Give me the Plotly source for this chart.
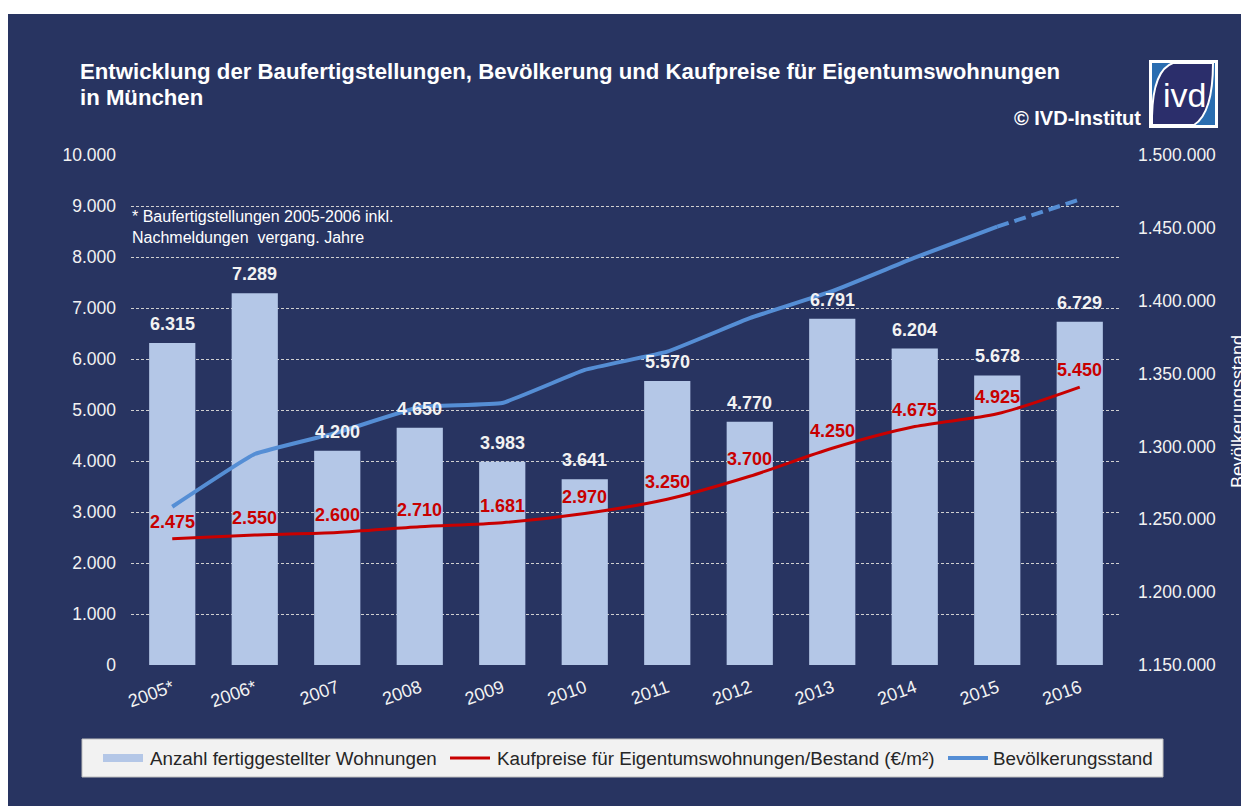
import plotly.graph_objects as go

# ---------------- data ----------------
years = ["2005*", "2006*", "2007", "2008", "2009", "2010", "2011", "2012",
         "2013", "2014", "2015", "2016"]
completions = [6315, 7289, 4200, 4650, 3983, 3641, 5570, 4770, 6791, 6204, 5678, 6729]
prices = [2475, 2550, 2600, 2710, 2790, 2970, 3250, 3700, 4250, 4675, 4925, 5450]
price_labels = ["2.475", "2.550", "2.600", "2.710", "1.681", "2.970", "3.250",
                "3.700", "4.250", "4.675", "4.925", "5.450"]
population = [1258600, 1294800, 1309500, 1327000, 1329800, 1352500, 1365000,
              1388000, 1406500, 1429500, 1450800, 1469500]
left_ticks = [0, 1000, 2000, 3000, 4000, 5000, 6000, 7000, 8000, 9000, 10000]
right_ticks = [1150000, 1200000, 1250000, 1300000, 1350000, 1400000, 1450000, 1500000]
series_names = ["Anzahl fertiggestellter Wohnungen",
                "Kaufpreise für Eigentumswohnungen/Bestand (€/m²)",
                "Bevölkerungsstand"]

# ---------------- style ----------------
W, H = 1251, 806
OFF = 8                      # page body margin (display offset)
ML, MR, MT, MB = 123, 138, 147, 149
PW = W - ML - MR
PH = H - MT - MB
NAVY = "#283461"
BAR = "#B4C7E7"
RED = "#C80000"
BLUE = "#558ED5"
FONT = "Liberation Sans, Arial, sans-serif"


def fmt(v):
    return f"{v:,}".replace(",", ".")


def px_x(p):
    """display pixel x -> paper coordinate"""
    return (p - OFF - ML) / PW


def px_y(p):
    """display pixel y -> paper coordinate"""
    return (H - MB - (p - OFF)) / PH


fig = go.Figure()

fig.add_trace(go.Bar(
    x=years, y=completions, marker=dict(color=BAR, line=dict(width=0)),
    name=series_names[0], yaxis="y"))

fig.add_trace(go.Scatter(
    x=years, y=prices, mode="lines",
    line=dict(color=RED, width=3, shape="spline", smoothing=0.8),
    name=series_names[1], yaxis="y"))

fig.add_trace(go.Scatter(
    x=years[:-1], y=population[:-1], mode="lines",
    line=dict(color=BLUE, width=4, shape="spline", smoothing=0.3),
    name=series_names[2], yaxis="y2"))

fig.add_trace(go.Scatter(
    x=years[-2:], y=population[-2:], mode="lines",
    line=dict(color=BLUE, width=4, dash="12px,6px"),
    name=series_names[2], yaxis="y2"))

annotations = []
for i, v in enumerate(completions):
    annotations.append(dict(
        x=i, y=v, xref="x", yref="y", text=f"<b>{fmt(v)}</b>", showarrow=False,
        yanchor="middle", yshift=19, font=dict(family=FONT, size=18, color="#F2F2F2")))
for i, (v, lab) in enumerate(zip(prices, price_labels)):
    annotations.append(dict(
        x=i, y=v, xref="x", yref="y", text=f"<b>{lab}</b>", showarrow=False,
        yanchor="middle", yshift=17, font=dict(family=FONT, size=18, color=RED)))

annotations += [
    dict(x=px_x(78), y=px_y(72), xref="paper", yref="paper", xanchor="left", yanchor="middle",
         text="<b>Entwicklung der Baufertigstellungen, Bevölkerung und Kaufpreise für Eigentumswohnungen</b>",
         showarrow=False, font=dict(family=FONT, size=22.2, color="white")),
    dict(x=px_x(78), y=px_y(98), xref="paper", yref="paper", xanchor="left", yanchor="middle",
         text="<b>in München</b>", showarrow=False, font=dict(family=FONT, size=22.2, color="white")),
    dict(x=px_x(1143), y=px_y(118), xref="paper", yref="paper", xanchor="right", yanchor="middle",
         text="<b>© IVD-Institut</b>", showarrow=False, font=dict(family=FONT, size=20, color="white")),
    dict(x=px_x(1184), y=px_y(95), xref="paper", yref="paper", xanchor="center", yanchor="middle",
         text="ivd", showarrow=False, font=dict(family=FONT, size=34, color="white")),
    dict(x=px_x(130), y=px_y(227), xref="paper", yref="paper", xanchor="left", yanchor="middle",
         align="left",
         text="* Baufertigstellungen 2005-2006 inkl.<br>Nachmeldungen  vergang. Jahre",
         showarrow=False, font=dict(family=FONT, size=16, color="white")),
    dict(x=px_x(1238), y=px_y(412), xref="paper", yref="paper", xanchor="center", yanchor="middle",
         text="Bevölkerungsstand", textangle=-90, showarrow=False,
         font=dict(family=FONT, size=18, color="white")),
]

shapes = [
    # navy background panel
    dict(type="rect", xref="paper", yref="paper", layer="below",
         x0=px_x(8), x1=px_x(1241), y0=px_y(830), y1=px_y(14),
         fillcolor=NAVY, line=dict(width=0)),
    # legend box
    dict(type="rect", xref="paper", yref="paper", layer="above",
         x0=px_x(82), x1=px_x(1163), y0=px_y(777), y1=px_y(739),
         fillcolor="#F2F2F2", line=dict(color="#BFBFBF", width=1)),
    # legend swatches
    dict(type="rect", xref="paper", yref="paper", layer="above",
         x0=px_x(103), x1=px_x(143), y0=px_y(762), y1=px_y(754),
         fillcolor=BAR, line=dict(width=0)),
    dict(type="line", xref="paper", yref="paper", layer="above",
         x0=px_x(450), x1=px_x(490), y0=px_y(758), y1=px_y(758),
         line=dict(color=RED, width=3)),
    dict(type="line", xref="paper", yref="paper", layer="above",
         x0=px_x(948), x1=px_x(988), y0=px_y(758), y1=px_y(758),
         line=dict(color=BLUE, width=4)),
    # logo
    dict(type="rect", xref="paper", yref="paper", layer="above",
         x0=px_x(1149), x1=px_x(1218), y0=px_y(128), y1=px_y(60),
         fillcolor="white", line=dict(width=0)),
    dict(type="rect", xref="paper", yref="paper", layer="above",
         x0=px_x(1152), x1=px_x(1215), y0=px_y(125), y1=px_y(63),
         fillcolor="#2A6DB0", line=dict(width=0)),
]
logo_path = (
    f"M{px_x(1173)},{px_y(63)} L{px_x(1213)},{px_y(63)} "
    f"Q{px_x(1213)},{px_y(113)} {px_x(1194)},{px_y(125)} "
    f"L{px_x(1152)},{px_y(125)} L{px_x(1152)},{px_y(116)} "
    f"Q{px_x(1153)},{px_y(70)} {px_x(1173)},{px_y(63)} Z"
)
shapes.append(dict(type="path", xref="paper", yref="paper", layer="above", path=logo_path,
                   fillcolor="#2B2E6B", line=dict(color="white", width=2)))

# legend texts
for name, xpos in zip(series_names, [148, 495, 991]):
    annotations.append(dict(
        x=px_x(xpos), y=px_y(758), xref="paper", yref="paper", xanchor="left",
        yanchor="middle", text=name, showarrow=False,
        font=dict(family=FONT, size=18.8, color="#262626")))

fig.update_layout(
    width=W, height=H,
    margin=dict(l=ML, r=MR, t=MT, b=MB),
    paper_bgcolor="white", plot_bgcolor="rgba(0,0,0,0)",
    separators=",.",
    bargap=0.44,
    showlegend=False,
    font=dict(family=FONT, color="white"),
    xaxis=dict(type="category", range=[-0.5, 11.5], tickangle=-20, showgrid=False,
               zeroline=False, showline=False, ticks="", ticklabelstandoff=8,
               tickfont=dict(family=FONT, size=18, color="#F2F2F2")),
    yaxis=dict(range=[0, 10000], tickvals=left_ticks, ticktext=[fmt(v) for v in left_ticks],
               showgrid=True, gridcolor="#D0D0D0", gridwidth=1, griddash="3px,2px",
               zeroline=False, showline=False, ticks="", ticklabelstandoff=14,
               tickfont=dict(family=FONT, size=17.5, color="#F2F2F2")),
    yaxis2=dict(range=[1150000, 1500000], tickvals=right_ticks,
                ticktext=[fmt(v) for v in right_ticks], overlaying="y", side="right",
                showgrid=False, zeroline=False, showline=False, ticks="", ticklabelstandoff=16,
                tickfont=dict(family=FONT, size=17.5, color="#F2F2F2")),
    annotations=annotations,
    shapes=shapes,
)

fig.write_html("out.html")
